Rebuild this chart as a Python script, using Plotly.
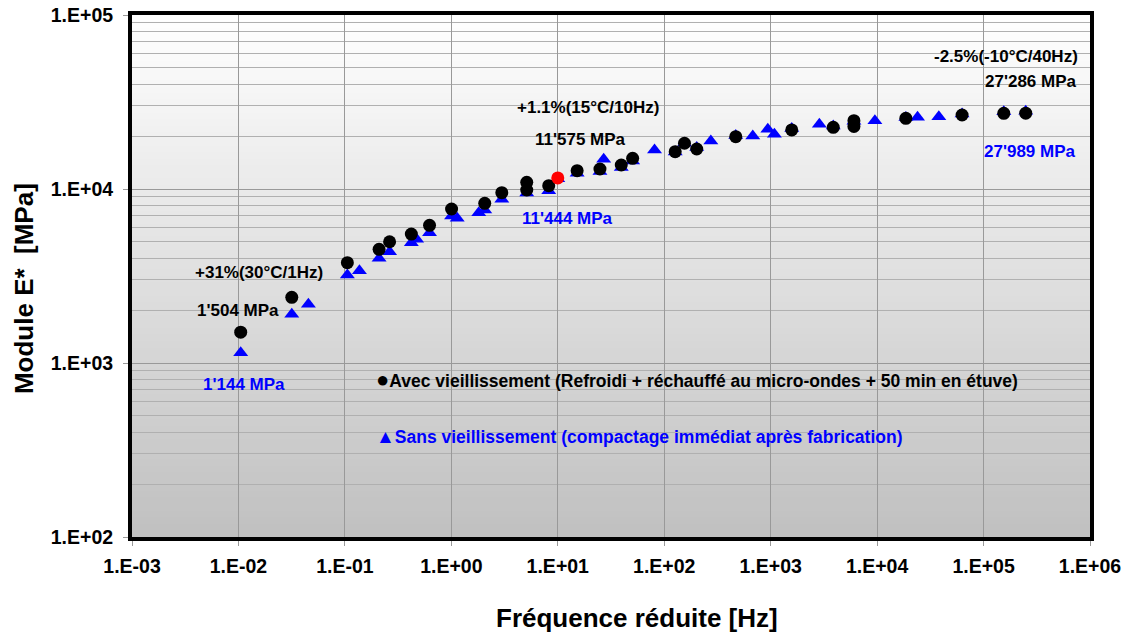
import plotly.graph_objects as go

# ---------------- data ----------------
avec_x = [0.0105, 0.0317, 0.1055, 0.2095, 0.263, 0.421, 0.624, 1.005, 2.06, 2.98,
          5.11, 5.11, 8.22, 15.2, 24.9, 39.5, 50.5, 126.8, 155, 202, 470, 1578,
          3873, 6057, 6057, 18620, 62850, 154900, 249000]
avec_y = [1504, 2386, 3770, 4500, 4977, 5510, 6182, 7676, 8277, 9520,
          10920, 9870, 10450, 12740, 13030, 13740, 15010, 16390, 18320, 16980, 19980, 21840,
          22620, 24700, 22900, 25480, 26620, 27230, 27286]

sans_x = [0.0105, 0.0317, 0.0454, 0.1055, 0.137, 0.2095, 0.263, 0.421, 0.472, 0.624,
          1.005, 1.135, 1.81, 2.06, 2.98, 5.11, 8.22, 10, 15.2, 24.9, 27.0, 39.5, 50.5,
          81.1, 126.8, 155, 202, 274, 470, 679, 940, 1084, 1578, 2865, 3873, 6057,
          9530, 18620, 23980, 38000, 62850, 154900, 249000]
sans_y = [1144, 1905, 2175, 3206, 3393, 3996, 4363, 4914, 5140, 5605,
          6998, 6784, 7306, 7575, 8730, 9500, 9776, 11444, 12300, 12600, 14820, 13300, 14500,
          16760, 16300, 18300, 17300, 18880, 20300, 20170, 22030, 20620, 22300, 23540, 23000, 24500,
          24700, 25800, 25820, 26010, 27000, 27800, 27989]

ref_x = [10]
ref_y = [11575]

x_tick_vals = [1e-3, 1e-2, 1e-1, 1e0, 1e1, 1e2, 1e3, 1e4, 1e5, 1e6]
x_tick_text = ["1.E-03", "1.E-02", "1.E-01", "1.E+00", "1.E+01", "1.E+02",
               "1.E+03", "1.E+04", "1.E+05", "1.E+06"]
y_tick_vals = [1e2, 1e3, 1e4, 1e5]
y_tick_text = ["1.E+02", "1.E+03", "1.E+04", "1.E+05"]

x_title = "Fréquence réduite [Hz]"
y_title = "Module E*  [MPa]"

legend_avec = "Avec vieillissement (Refroidi + réchauffé au micro-ondes + 50 min en étuve)"
legend_sans = "Sans vieillissement (compactage immédiat après fabrication)"

# (text, colour, log10 x, log10 y)
labels = [
    ("+31%(30°C/1Hz)", "black", -1.809, 3.523),
    ("1'504 MPa", "black", -2.006, 3.299),
    ("1'144 MPa", "blue", -1.949, 2.879),
    ("+1.1%(15°C/10Hz)", "black", 1.287, 4.471),
    ("11'575 MPa", "black", 1.212, 4.282),
    ("11'444 MPa", "blue", 1.09, 3.828),
    ("-2.5%(-10°C/40Hz)", "black", 5.208, 4.759),
    ("27'286 MPa", "black", 5.443, 4.615),
    ("27'989 MPa", "blue", 5.433, 4.218),
]

FONT = "Liberation Sans, Arial, sans-serif"

fig = go.Figure()

fig.add_trace(go.Scatter(x=sans_x, y=sans_y, mode="markers", name=legend_sans,
                         marker=dict(symbol="triangle-up", size=13, color="#0000ff",
                                     line=dict(width=0))))
fig.add_trace(go.Scatter(x=avec_x, y=avec_y, mode="markers", name=legend_avec,
                         marker=dict(symbol="circle", size=13, color="black",
                                     line=dict(width=0))))
fig.add_trace(go.Scatter(x=ref_x, y=ref_y, mode="markers", name="ref",
                         marker=dict(symbol="circle", size=13, color="#ff0000",
                                     line=dict(width=0))))

# gradient background
shapes = []
N = 80
for i in range(N):
    t = (i + 0.5) / N
    c = int(round(255 - (255 - 192) * t))
    shapes.append(dict(type="rect", xref="x domain", yref="y domain",
                       x0=0, x1=1, y0=1 - (i + 1) / N - 0.002, y1=1 - i / N,
                       fillcolor=f"rgb({c},{c},{c})", line=dict(width=0),
                       layer="below"))

annotations = []
for txt, col, lx, ly in labels:
    annotations.append(dict(text=txt, x=lx, y=ly, xref="x", yref="y",
                            showarrow=False,
                            font=dict(family=FONT, size=17, color=col, weight="bold")))
annotations.append(dict(text="<span style='font-size:22px'>●</span>" + legend_avec,
                        x=-0.725, y=2.908, xref="x", yref="y",
                        xanchor="left", showarrow=False,
                        font=dict(family=FONT, size=17.5, color="black", weight="bold")))
annotations.append(dict(text="<span style='font-size:19px'>▲</span>" + legend_sans,
                        x=-0.725, y=2.575, xref="x", yref="y",
                        xanchor="left", showarrow=False,
                        font=dict(family=FONT, size=17.5, color="#0000ff", weight="bold")))
# axis titles
annotations.append(dict(text=x_title, x=0.527, y=-0.155, xref="paper", yref="paper",
                        xanchor="center", yanchor="middle", showarrow=False,
                        font=dict(family=FONT, size=26, color="black", weight="bold")))
annotations.append(dict(text=y_title, x=-0.1127, y=0.475, xref="paper", yref="paper",
                        xanchor="center", yanchor="middle", showarrow=False, textangle=-90,
                        font=dict(family=FONT, size=26, color="black", weight="bold")))

fig.update_layout(
    width=1135, height=637,
    margin=dict(l=132, r=45, t=15, b=100, autoexpand=False),
    paper_bgcolor="white", plot_bgcolor="white",
    showlegend=False,
    font=dict(family=FONT, size=18, color="black"),
    shapes=shapes, annotations=annotations,
)
fig.update_xaxes(type="log", range=[-3, 6], tickvals=x_tick_vals, ticktext=x_tick_text,
                 automargin=False,
                 showgrid=True, gridcolor="#999999", gridwidth=1,
                 showline=True, linecolor="black", linewidth=4, mirror=True,
                 ticks="outside", ticklen=5, tickcolor="#999999",
                 ticklabelstandoff=4,
                 tickfont=dict(family=FONT, size=19.5, color="black", weight="bold"),
                 zeroline=False)
fig.update_yaxes(type="log", range=[2, 5], tickvals=y_tick_vals, ticktext=y_tick_text,
                 automargin=False,
                 showgrid=True, gridcolor="#999999", gridwidth=1,
                 minor=dict(dtick="D1", showgrid=True, gridcolor="#b0b0b0", ticks=""),
                 showline=True, linecolor="black", linewidth=4, mirror=True,
                 ticks="outside", ticklen=5, tickcolor="#999999",
                 ticklabelstandoff=6,
                 tickfont=dict(family=FONT, size=19.5, color="black", weight="bold"),
                 zeroline=False)

fig.write_html("out.html")
